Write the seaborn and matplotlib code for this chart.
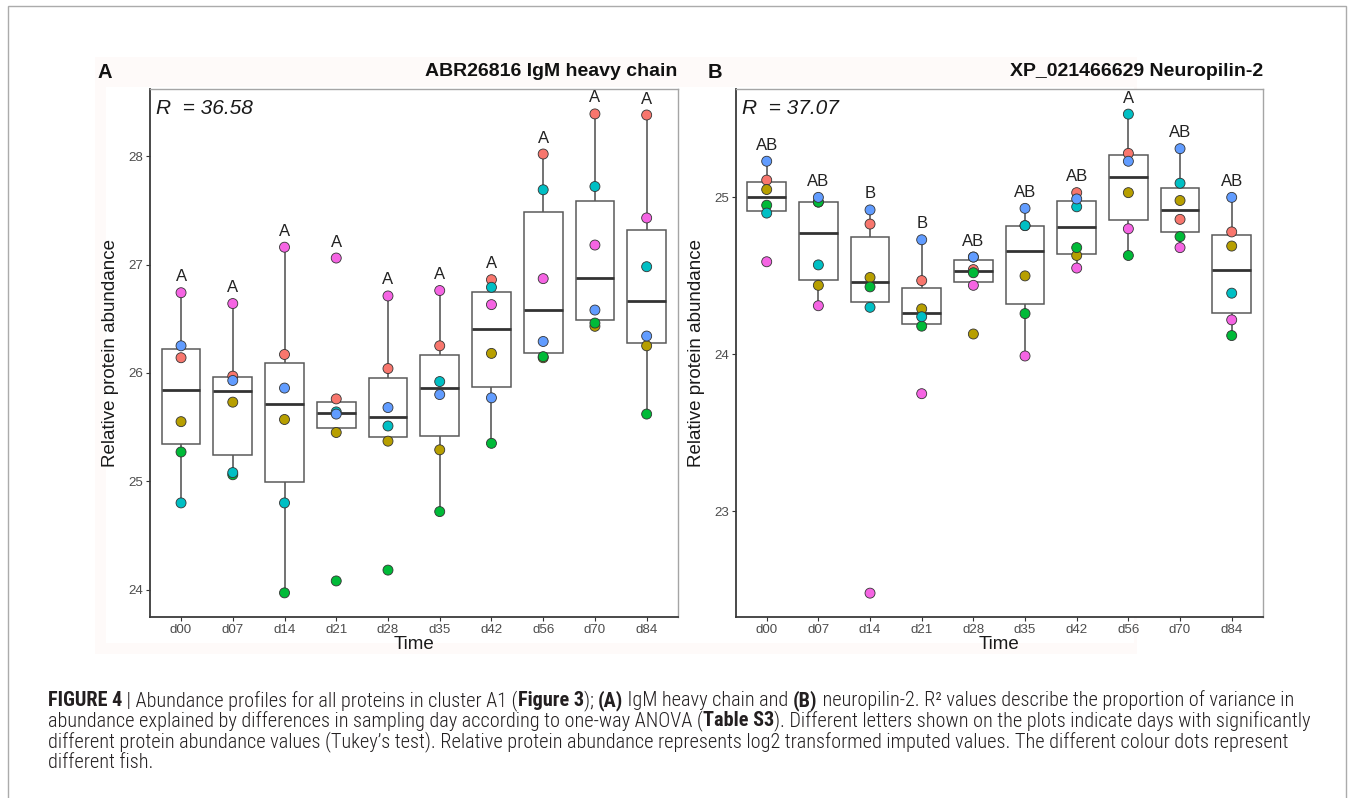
import numpy as np
import pandas as pd
import matplotlib
matplotlib.use("Agg")
import matplotlib.pyplot as plt
from matplotlib import font_manager
from matplotlib.patches import Rectangle
import seaborn as sns

# ---------------- data ----------------
days = ["d00", "d07", "d14", "d21", "d28", "d35", "d42", "d56", "d70", "d84"]
fish = ["F1", "F2", "F3", "F4", "F5", "F6"]
fish_colors = ["#F8766D", "#B79F00", "#00BA38", "#00BFC4", "#619CFF", "#F564E3"]

# Panel A: ABR26816 IgM heavy chain
igm_f1 = [26.14, 25.97, 26.17, 25.76, 26.04, 26.25, 26.86, 28.02, 28.39, 28.38]
igm_f2 = [25.55, 25.73, 25.57, 25.45, 25.37, 25.29, 26.18, 26.14, 26.43, 26.25]
igm_f3 = [25.27, 25.06, 23.97, 24.08, 24.18, 24.72, 25.35, 26.15, 26.46, 25.62]
igm_f4 = [24.80, 25.08, 24.80, 25.64, 25.51, 25.92, 26.79, 27.69, 27.72, 26.98]
igm_f5 = [26.25, 25.93, 25.86, 25.62, 25.68, 25.80, 25.77, 26.29, 26.58, 26.34]
igm_f6 = [26.74, 26.64, 27.16, 27.06, 26.71, 26.76, 26.63, 26.87, 27.18, 27.43]
igm_letters = ["A", "A", "A", "A", "A", "A", "A", "A", "A", "A"]
igm_title = "ABR26816 IgM heavy chain"
igm_r2 = "R  = 36.58"
igm_yticks = [24, 25, 26, 27, 28]

# Panel B: XP_021466629 Neuropilin-2
nrp_f1 = [25.11, 24.97, 24.83, 24.47, 24.54, 24.82, 25.03, 25.28, 24.86, 24.78]
nrp_f2 = [25.05, 24.44, 24.49, 24.29, 24.13, 24.50, 24.63, 25.03, 24.98, 24.69]
nrp_f3 = [24.95, 24.97, 24.43, 24.18, 24.52, 24.26, 24.68, 24.63, 24.75, 24.12]
nrp_f4 = [24.90, 24.57, 24.30, 24.24, 24.62, 24.82, 24.94, 25.53, 25.09, 24.39]
nrp_f5 = [25.23, 25.00, 24.92, 24.73, 24.62, 24.93, 24.99, 25.23, 25.31, 25.00]
nrp_f6 = [24.59, 24.31, 22.48, 23.75, 24.44, 23.99, 24.55, 24.80, 24.68, 24.22]
nrp_letters = ["AB", "AB", "B", "B", "AB", "AB", "AB", "A", "AB", "AB"]
nrp_title = "XP_021466629 Neuropilin-2"
nrp_r2 = "R  = 37.07"
nrp_yticks = [23, 24, 25]

caption_lines = [
    [("FIGURE 4", True), (" | Abundance profiles for all proteins in cluster A1 (", False),
     ("Figure 3", True), ("); ", False), ("(A)", True), (" IgM heavy chain and ", False),
     ("(B)", True), (" neuropilin-2. R\u00b2 values describe the proportion of variance in", False)],
    [("abundance explained by differences in sampling day according to one-way ANOVA (", False),
     ("Table S3", True), ("). Different letters shown on the plots indicate days with significantly", False)],
    [("different protein abundance values (Tukey\u2019s test). Relative protein abundance represents log2 transformed imputed values. The different colour dots represent", False)],
    [("different fish.", False)],
]
caption_line_ends = [1312, 1303, 1275]


def long_df(series):
    rows = []
    for f, vals in zip(fish, series):
        for d, v in zip(days, vals):
            rows.append({"Time": d, "Fish": f, "value": v})
    return pd.DataFrame(rows)


dfA = long_df([igm_f1, igm_f2, igm_f3, igm_f4, igm_f5, igm_f6])
dfB = long_df([nrp_f1, nrp_f2, nrp_f3, nrp_f4, nrp_f5, nrp_f6])

# ---------------- style ----------------
sns.set_style("white")
flist = font_manager.fontManager.ttflist
avail = {f.name for f in flist}
main_font = "Liberation Sans" if "Liberation Sans" in avail else "DejaVu Sans"
plt.rcParams["font.family"] = [main_font, "DejaVu Sans"]

# pick a condensed face for the caption if one is installed
cap_family, cap_stretch = main_font, "normal"
narrow_pref = ["Liberation Sans Narrow", "Roboto Condensed", "Open Sans Condensed",
               "Noto Sans Condensed", "DejaVu Sans Condensed"]
for nm in narrow_pref:
    if nm in avail:
        cap_family = nm
        break
else:
    for pref in ["Roboto", "Noto Sans", "Open Sans", "DejaVu Sans", "Liberation Sans"]:
        hits = [f for f in flist if f.name == pref and "ondensed" in f.fname]
        if hits:
            cap_family, cap_stretch = pref, "condensed"
            break

W, H = 1354, 798
fig = plt.figure(figsize=(W / 100, H / 100), dpi=100)
fig.patch.set_facecolor("white")


def fx(px):
    return px / W


def fy(py):
    return 1 - py / H


# faint panel backgrounds and outer frame
fig.patches.append(Rectangle((fx(95), fy(654)), fx(1137) - fx(95), fy(57) - fy(654),
                             transform=fig.transFigure, facecolor="#FEFAF9", edgecolor="none", zorder=-5))
fig.patches.append(Rectangle((fx(106), fy(643)), fx(1134) - fx(106), fy(87) - fy(643),
                             transform=fig.transFigure, facecolor="white", edgecolor="none", zorder=-4))
fig.patches.append(Rectangle((fx(8), fy(805)), fx(1346) - fx(8), fy(6) - fy(805),
                             transform=fig.transFigure, facecolor="none", edgecolor="#ABABAB",
                             linewidth=1.0, zorder=-3))

panels = [
    dict(df=dfA, letters=igm_letters, title=igm_title, r2=igm_r2, yticks=igm_yticks,
         ylim=(23.75, 28.62), left=150, right=677.7, lab="A", labx=98),
    dict(df=dfB, letters=nrp_letters, title=nrp_title, r2=nrp_r2, yticks=nrp_yticks,
         ylim=(22.33, 25.69), left=735.7, right=1262.7, lab="B", labx=708),
]

top_px, bot_px = 89.0, 616.7
for p in panels:
    ax = fig.add_axes([fx(p["left"]), fy(bot_px), fx(p["right"]) - fx(p["left"]),
                       (bot_px - top_px) / H])
    ax.set_facecolor("white")
    sns.boxplot(data=p["df"], x="Time", y="value", order=days, ax=ax, color="white",
                width=0.75, showfliers=False, showcaps=False, linewidth=1.1,
                linecolor="#5A5A5A",
                medianprops=dict(color="#333333", linewidth=2.0),
                boxprops=dict(facecolor="white", edgecolor="#5A5A5A"),
                whiskerprops=dict(color="#5A5A5A", linewidth=1.2))
    sns.stripplot(data=p["df"], x="Time", y="value", order=days, hue="Fish",
                  hue_order=fish, palette=fish_colors, jitter=False, size=7.2,
                  linewidth=0.6, edgecolor="#333333", legend=False, ax=ax, zorder=3)
    # significance letters
    maxes = p["df"].groupby("Time")["value"].max().reindex(days)
    for i, (d, let) in enumerate(zip(days, p["letters"])):
        ax.annotate(let, (i, maxes[d]), xytext=(0, 11.5), textcoords="offset points",
                    ha="center", va="center", fontsize=12, color="#222222")
    ax.set_xlim(-0.6, 9.6)
    ax.set_ylim(*p["ylim"])
    ax.set_yticks(p["yticks"])
    ax.set_yticklabels([str(t) for t in p["yticks"]])
    ax.tick_params(axis="both", labelsize=9.6, labelcolor="#4D4D4D", color="#333333",
                   length=3, width=0.8, pad=2, direction="out", left=True, bottom=True)
    for s in ["left", "bottom"]:
        ax.spines[s].set_color("#3A3A3A")
        ax.spines[s].set_linewidth(1.3)
    for s in ["top", "right"]:
        ax.spines[s].set_color("#A5A5A5")
        ax.spines[s].set_linewidth(1.0)
    ax.set_xlabel("Time", fontsize=13.5, color="#1A1A1A")
    ax.set_ylabel("Relative protein abundance", fontsize=13.5, color="#1A1A1A")
    ax.xaxis.set_label_coords(0.5, -0.036)
    ax.yaxis.set_label_coords(-0.058, 0.5)
    ax.text(0.012, 0.963, p["r2"], transform=ax.transAxes, fontsize=15, style="italic",
            ha="left", va="center", color="#1A1A1A")
    fig.text(fx(p["right"]), fy(72), p["title"], fontsize=14, fontweight="bold",
             ha="right", va="center", color="#111111")
    fig.text(fx(p["labx"]), fy(72), p["lab"], fontsize=14.5, fontweight="bold",
             ha="left", va="center", color="#111111")

# ---------------- caption ----------------
renderer = fig.canvas.get_renderer()
cap_kw = dict(family=[cap_family, "DejaVu Sans"], fontstretch=cap_stretch)
normal_weight = "light"


def run_width(txt, bold, size):
    wgt = "bold" if bold else normal_weight
    t1 = fig.text(0, 0, "|" + txt + "|", fontsize=size, fontweight=wgt, **cap_kw)
    t2 = fig.text(0, 0, "||", fontsize=size, fontweight=wgt, **cap_kw)
    w = t1.get_window_extent(renderer).width - t2.get_window_extent(renderer).width
    t1.remove()
    t2.remove()
    return w


def line_width(runs, size):
    return sum(run_width(t, b, size) for t, b in runs)


base = 11.0
x_start = 48.0
widths = [line_width(caption_lines[k], base) for k in range(3)]
targets = [e - x_start for e in caption_line_ends]
cap_size = base * sum(targets) / sum(widths)

baselines = [706, 726.5, 747, 767.5]
for runs, yb in zip(caption_lines, baselines):
    x = x_start
    for txt, bold in runs:
        fig.text(fx(x), fy(yb), txt, fontsize=cap_size,
                 fontweight="bold" if bold else normal_weight, ha="left", va="baseline",
                 color="#231F20", **cap_kw)
        x += run_width(txt, bold, cap_size)

fig.savefig("out.png", dpi=100, facecolor="white")
